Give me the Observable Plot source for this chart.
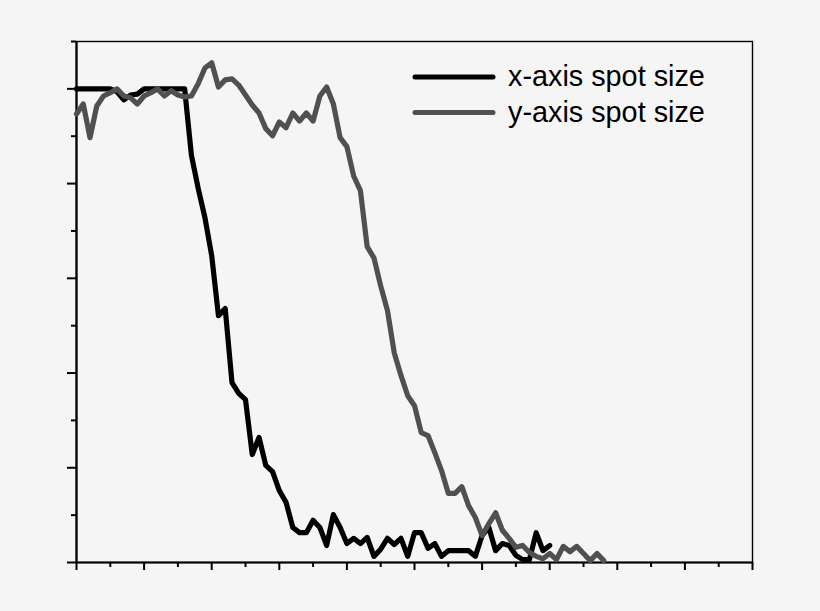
<!DOCTYPE html>
<html>
<head>
<meta charset="utf-8">
<script src="https://cdn.jsdelivr.net/npm/d3@7"></script>
<script src="https://cdn.jsdelivr.net/npm/@observablehq/plot@0.6"></script>
<style>
  html, body { margin: 0; padding: 0; background: #f5f5f5; }
  #wrap { position: relative; width: 820px; height: 611px; }
  #legend { position: absolute; left: 0; top: 0; pointer-events: none; }
</style>
</head>
<body>
<div id="wrap"></div>
<script>
// sample positions (evenly spaced)
const steps = [0,1,2,3,4,5,6,7,8,9,10,11,12,13,14,15,16,17,18,19,20,21,22,23,24,25,26,27,28,29,30,31,32,33,34,35,36,37,38,39,40,41,42,43,44,45,46,47,48,49,50,51,52,53,54,55,56,57,58,59,60,61,62,63,64,65,66,67,68,69,70,71,72,73,74,75,76,77,78];

// x-axis spot size (black)
const xSpot = [1.0,1.0,1.0,1.0,1.0,1.0,0.994,0.977,0.987,0.989,1.0,1.0,1.0,1.0,1.0,1.0,1.0,
  0.86,0.79,0.728,0.648,0.521,0.536,0.380,0.357,0.344,0.228,0.264,0.205,0.192,0.152,0.127,
  0.074,0.063,0.063,0.089,0.074,0.036,0.101,0.074,0.040,0.051,0.040,0.053,0.013,0.028,
  0.051,0.038,0.051,0.013,0.063,0.063,0.030,0.040,0.013,0.025,0.025,0.025,0.025,0.013,
  0.057,0.074,0.025,0.040,0.036,0.015,0.006,0.006,0.063,0.025,0.036];

// y-axis spot size (gray)
const ySpot = [0.947,0.968,0.897,0.964,0.985,0.992,1.0,0.985,0.981,0.968,0.985,0.992,1.0,0.985,0.996,0.987,
  0.983,0.985,1.011,1.044,1.055,1.004,1.019,1.021,1.008,0.987,0.966,0.949,0.916,0.901,0.930,0.918,
  0.949,0.932,0.949,0.932,0.985,1.004,0.968,0.897,0.878,0.816,0.785,0.667,0.643,0.584,0.532,0.443,
  0.395,0.352,0.331,0.274,0.268,0.232,0.194,0.146,0.146,0.160,0.120,0.095,0.057,0.082,0.105,0.068,
  0.051,0.032,0.036,0.021,0.013,0.008,0.019,0.006,0.034,0.023,0.034,0.019,0.004,0.019,0.004];

const xMajorTicks = [0,10,20,30,40,50,60,70,80,90,100];
const xMinorTicks = [5,15,25,35,45,55,65,75,85,95];
const yMajorTicks = [0,0.2,0.4,0.6,0.8,1.0];
const yMinorTicks = [0.1,0.3,0.5,0.7,0.9,1.1];

const seriesNames = ["x-axis spot size", "y-axis spot size"];
const seriesColors = ["#000000", "#505050"];

const blackData = xSpot.map((v, i) => ({step: steps[i], value: v}));
const grayData = ySpot.map((v, i) => ({step: steps[i], value: v}));

const blank = () => "";

const chart = Plot.plot({
  width: 820,
  height: 611,
  marginLeft: 76,
  marginRight: 68,
  marginTop: 41,
  marginBottom: 49,
  style: {background: "#f5f5f5", color: "black"},
  x: {domain: [0, 100], label: null},
  y: {domain: [0, 1.1], label: null},
  marks: [
    Plot.axisX({ticks: xMajorTicks, tickSize: 8, tickFormat: blank, strokeWidth: 2, label: null}),
    Plot.axisX({ticks: xMinorTicks, tickSize: 5, tickFormat: blank, strokeWidth: 2, label: null}),
    Plot.axisY({ticks: yMajorTicks, tickSize: 9, tickFormat: blank, strokeWidth: 2, label: null}),
    Plot.axisY({ticks: yMinorTicks, tickSize: 5, tickFormat: blank, strokeWidth: 2, label: null}),
    Plot.frame({stroke: "black", strokeWidth: 1.4}),
    Plot.ruleX([0], {stroke: "black", strokeWidth: 2.2}),
    Plot.ruleY([0], {stroke: "black", strokeWidth: 2.2}),
    Plot.line(blackData, {x: "step", y: "value", stroke: seriesColors[0], strokeWidth: 5.2, strokeLinejoin: "round"}),
    Plot.line(grayData, {x: "step", y: "value", stroke: seriesColors[1], strokeWidth: 5.2, strokeLinejoin: "round"})
  ]
});

const wrap = document.getElementById("wrap");
wrap.appendChild(chart);

// legend overlay
const leg = d3.select(wrap).append("svg")
  .attr("id", "legend")
  .attr("width", 820).attr("height", 611);
const rowY = [77, 112.5];
seriesNames.forEach((name, i) => {
  leg.append("line")
    .attr("x1", 415).attr("x2", 493)
    .attr("y1", rowY[i]).attr("y2", rowY[i])
    .attr("stroke", seriesColors[i]).attr("stroke-width", 5)
    .attr("stroke-linecap", "round");
  leg.append("text")
    .attr("x", 508).attr("y", rowY[i] + 9)
    .attr("font-family", "'Liberation Sans', Arial, sans-serif")
    .attr("font-size", 28.8)
    .attr("fill", "black")
    .text(name);
});
</script>
</body>
</html>
